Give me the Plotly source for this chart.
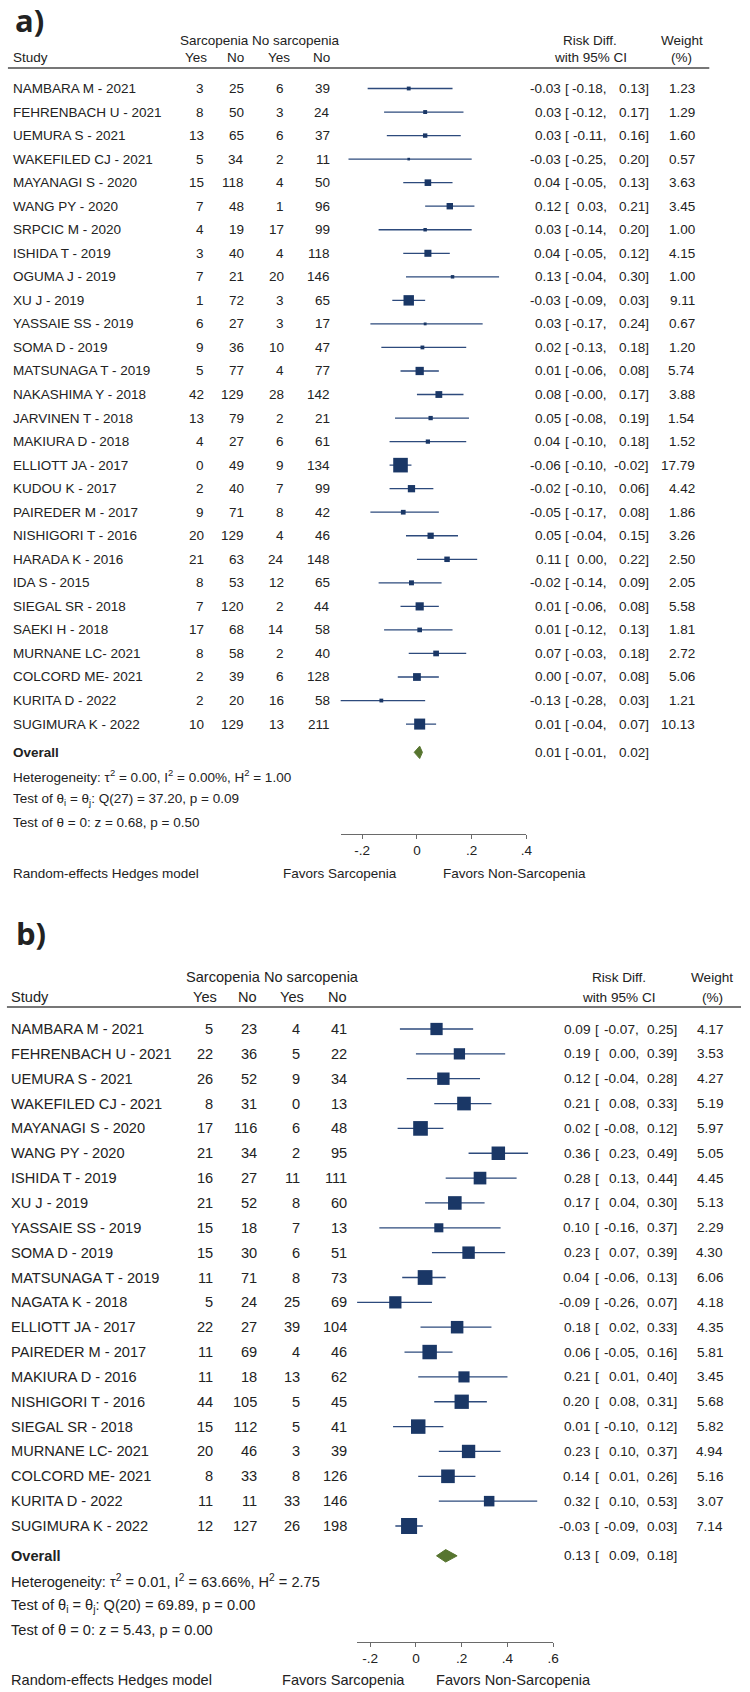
import plotly.graph_objects as go

W, H = 750, 1692
FONT = "Liberation Sans, Arial, Helvetica, sans-serif"
TEXT = "#222222"
NAVY = "#1a3766"
CI_COLOR = "#2d4a7c"
GREEN = "#57752f"
AXIS_COLOR = "#6a6a6a"

# ---------------- panel a data ----------------
studies_a = [
    "NAMBARA M - 2021", "FEHRENBACH U - 2021", "UEMURA S - 2021", "WAKEFILED CJ - 2021",
    "MAYANAGI S - 2020", "WANG PY - 2020", "SRPCIC M - 2020", "ISHIDA T - 2019",
    "OGUMA J - 2019", "XU J - 2019", "YASSAIE SS - 2019", "SOMA D - 2019",
    "MATSUNAGA T - 2019", "NAKASHIMA Y - 2018", "JARVINEN T - 2018", "MAKIURA D - 2018",
    "ELLIOTT JA - 2017", "KUDOU K - 2017", "PAIREDER M - 2017", "NISHIGORI T - 2016",
    "HARADA K - 2016", "IDA S - 2015", "SIEGAL SR - 2018", "SAEKI H - 2018",
    "MURNANE LC- 2021", "COLCORD ME- 2021", "KURITA D - 2022", "SUGIMURA K - 2022",
]
sarc_yes_a = [3, 8, 13, 5, 15, 7, 4, 3, 7, 1, 6, 9, 5, 42, 13, 4, 0, 2, 9, 20, 21, 8, 7, 17, 8, 2, 2, 10]
sarc_no_a = [25, 50, 65, 34, 118, 48, 19, 40, 21, 72, 27, 36, 77, 129, 79, 27, 49, 40, 71, 129, 63, 53, 120, 68, 58, 39, 20, 129]
nosarc_yes_a = [6, 3, 6, 2, 4, 1, 17, 4, 20, 3, 3, 10, 4, 28, 2, 6, 9, 7, 8, 4, 24, 12, 2, 14, 2, 6, 16, 13]
nosarc_no_a = [39, 24, 37, 11, 50, 96, 99, 118, 146, 65, 17, 47, 77, 142, 21, 61, 134, 99, 42, 46, 148, 65, 44, 58, 40, 128, 58, 211]
rd_a = [-0.03, 0.03, 0.03, -0.03, 0.04, 0.12, 0.03, 0.04, 0.13, -0.03, 0.03, 0.02, 0.01, 0.08,
        0.05, 0.04, -0.06, -0.02, -0.05, 0.05, 0.11, -0.02, 0.01, 0.01, 0.07, 0.00, -0.13, 0.01]
lo_a = [-0.18, -0.12, -0.11, -0.25, -0.05, 0.03, -0.14, -0.05, -0.04, -0.09, -0.17, -0.13, -0.06, -0.0,
        -0.08, -0.10, -0.10, -0.10, -0.17, -0.04, 0.00, -0.14, -0.06, -0.12, -0.03, -0.07, -0.28, -0.04]
hi_a = [0.13, 0.17, 0.16, 0.20, 0.13, 0.21, 0.20, 0.12, 0.30, 0.03, 0.24, 0.18, 0.08, 0.17,
        0.19, 0.18, -0.02, 0.06, 0.08, 0.15, 0.22, 0.09, 0.08, 0.13, 0.18, 0.08, 0.03, 0.07]
weight_a = [1.23, 1.29, 1.60, 0.57, 3.63, 3.45, 1.00, 4.15, 1.00, 9.11, 0.67, 1.20, 5.74, 3.88,
            1.54, 1.52, 17.79, 4.42, 1.86, 3.26, 2.50, 2.05, 5.58, 1.81, 2.72, 5.06, 1.21, 10.13]
overall_a = [0.01, -0.01, 0.02]
stats_a = ["τ<sup>2</sup> = 0.00, I<sup>2</sup> = 0.00%, H<sup>2</sup> = 1.00",
           "Q(27) = 37.20, p = 0.09",
           "z = 0.68, p = 0.50"]
ticks_a = [-0.2, 0, 0.2, 0.4]
ticklabels_a = ["-.2", "0", ".2", ".4"]

# ---------------- panel b data ----------------
studies_b = [
    "NAMBARA M - 2021", "FEHRENBACH U - 2021", "UEMURA S - 2021", "WAKEFILED CJ - 2021",
    "MAYANAGI S - 2020", "WANG PY - 2020", "ISHIDA T - 2019", "XU J - 2019",
    "YASSAIE SS - 2019", "SOMA D - 2019", "MATSUNAGA T - 2019", "NAGATA K - 2018",
    "ELLIOTT JA - 2017", "PAIREDER M - 2017", "MAKIURA D - 2016", "NISHIGORI T - 2016",
    "SIEGAL SR - 2018", "MURNANE LC- 2021", "COLCORD ME- 2021", "KURITA D - 2022",
    "SUGIMURA K - 2022",
]
sarc_yes_b = [5, 22, 26, 8, 17, 21, 16, 21, 15, 15, 11, 5, 22, 11, 11, 44, 15, 20, 8, 11, 12]
sarc_no_b = [23, 36, 52, 31, 116, 34, 27, 52, 18, 30, 71, 24, 27, 69, 18, 105, 112, 46, 33, 11, 127]
nosarc_yes_b = [4, 5, 9, 0, 6, 2, 11, 8, 7, 6, 8, 25, 39, 4, 13, 5, 5, 3, 8, 33, 26]
nosarc_no_b = [41, 22, 34, 13, 48, 95, 111, 60, 13, 51, 73, 69, 104, 46, 62, 45, 41, 39, 126, 146, 198]
rd_b = [0.09, 0.19, 0.12, 0.21, 0.02, 0.36, 0.28, 0.17, 0.10, 0.23, 0.04, -0.09, 0.18, 0.06,
        0.21, 0.20, 0.01, 0.23, 0.14, 0.32, -0.03]
lo_b = [-0.07, 0.00, -0.04, 0.08, -0.08, 0.23, 0.13, 0.04, -0.16, 0.07, -0.06, -0.26, 0.02, -0.05,
        0.01, 0.08, -0.10, 0.10, 0.01, 0.10, -0.09]
hi_b = [0.25, 0.39, 0.28, 0.33, 0.12, 0.49, 0.44, 0.30, 0.37, 0.39, 0.13, 0.07, 0.33, 0.16,
        0.40, 0.31, 0.12, 0.37, 0.26, 0.53, 0.03]
weight_b = [4.17, 3.53, 4.27, 5.19, 5.97, 5.05, 4.45, 5.13, 2.29, 4.30, 6.06, 4.18, 4.35, 5.81,
            3.45, 5.68, 5.82, 4.94, 5.16, 3.07, 7.14]
overall_b = [0.13, 0.09, 0.18]
stats_b = ["τ<sup>2</sup> = 0.01, I<sup>2</sup> = 63.66%, H<sup>2</sup> = 2.75",
           "Q(20) = 69.89, p = 0.00",
           "z = 5.43, p = 0.00"]
ticks_b = [-0.2, 0, 0.2, 0.4, 0.6]
ticklabels_b = ["-.2", "0", ".2", ".4", ".6"]


def fmt(v):
    return f"{v:.2f}"


def py(ypx):
    return 1 - ypx / H


def add_panel(fig, ax, label, data, g):
    studies, c1, c2, c3, c4, rd, lo, hi, wt, overall, stats, tv, tt = data
    xname, yname = "x" + ax, "y" + ax
    n = len(studies)
    fs = g["fs"]
    nfs = g["nfs"]
    ann = []

    def t(text, xpx, y, anchor="left", yref=yname, size=fs, bold=False, fam=FONT):
        if yref == "paper":
            y = py(y)
        if bold:
            text = f"<b>{text}</b>"
        ann.append(dict(text=text, x=xpx / W, xref="paper", y=y, yref=yref,
                        xanchor=anchor, yanchor="middle", showarrow=False, borderpad=0,
                        font=dict(size=size, family=fam, color=TEXT)))

    rows = list(range(n))

    # CI lines
    xs, ys = [], []
    for i in rows:
        xs += [lo[i], hi[i], None]
        ys += [i, i, None]
    fig.add_trace(go.Scatter(x=xs, y=ys, mode="lines", xaxis=xname, yaxis=yname,
                             line=dict(color=CI_COLOR, width=1.3), hoverinfo="skip", cliponaxis=False))
    # weighted squares
    fig.add_trace(go.Scatter(x=rd, y=rows, mode="markers", xaxis=xname, yaxis=yname,
                             marker=dict(symbol="square", color=NAVY, opacity=1,
                                         size=[g["k"] * w ** 0.5 for w in wt], line=dict(width=0)),
                             cliponaxis=False))
    # overall diamond
    r0 = n + 0.2
    h = 6.2 / g["step"]
    est, olo, ohi = overall
    fig.add_trace(go.Scatter(x=[olo, est, ohi, est, olo], y=[r0, r0 - h, r0, r0 + h, r0],
                             mode="lines", fill="toself", fillcolor=GREEN, xaxis=xname, yaxis=yname,
                             line=dict(color=GREEN, width=1), cliponaxis=False))

    # header
    t("Sarcopenia No sarcopenia", g["grp"], g["hy1"], "center", "paper")
    t("Study", g["study_x"], g["hy2"], "left", "paper")
    for hx, ht in zip(g["hcols"], ["Yes", "No", "Yes", "No"]):
        t(ht, hx, g["hy2"], "right", "paper")
    t("Risk Diff.", g["rdc"], g["hy1"], "center", "paper", size=nfs)
    t("with 95% CI", g["rdc"], g["hy2"], "center", "paper", size=nfs)
    t("Weight", g["wc"], g["hy1"], "center", "paper", size=nfs)
    t("(%)", g["wc"], g["hy2"], "center", "paper", size=nfs)

    # rows
    for i in rows:
        t(studies[i], g["study_x"], i)
        for cx, col in zip(g["cols"], [c1, c2, c3, c4]):
            t(str(col[i]), cx, i, "right")
        t(fmt(rd[i]), g["est_r"], i, "right", size=nfs)
        t("[", g["br_l"], i, "left", size=nfs)
        t(fmt(lo[i]) + ",", g["lo_r"], i, "right", size=nfs)
        t(fmt(hi[i]) + "]", g["hi_r"], i, "right", size=nfs)
        t(fmt(wt[i]), g["w_r"], i, "right", size=nfs)

    t("Overall", g["study_x"], r0, bold=True)
    t(fmt(est), g["est_r"], r0, "right", size=nfs)
    t("[", g["br_l"], r0, "left", size=nfs)
    t(fmt(olo) + ",", g["lo_r"], r0, "right", size=nfs)
    t(fmt(ohi) + "]", g["hi_r"], r0, "right", size=nfs)
    t("Heterogeneity: " + stats[0], g["study_x"], n + 1.2)
    t("Test of θ<sub>i</sub> = θ<sub>j</sub>: " + stats[1], g["study_x"], n + 2.2)
    t("Test of θ = 0: " + stats[2], g["study_x"], n + 3.2)

    # footer
    t("Random-effects Hedges model", g["study_x"], g["fy"], "left", "paper")
    t("Favors Sarcopenia", g["fav1"], g["fy"], "center", "paper")
    t("Favors Non-Sarcopenia", g["fav2"], g["fy"], "center", "paper")

    # panel label
    t(label, g["lab_x"], g["lab_y"], "left", "paper", size=31, bold=True,
      fam="Open Sans, Lato, sans-serif")

    # header rule
    fig.add_shape(type="line", xref="paper", yref="paper", x0=g["rule"][0] / W, x1=g["rule"][1] / W,
                  y0=py(g["rule_y"]), y1=py(g["rule_y"]), line=dict(color="#4a4a4a", width=1.6))

    lay = {}
    lay["xaxis" + ax] = dict(domain=[g["ax_px"][0] / W, g["ax_px"][1] / W], range=g["xr"],
                             anchor=yname, showline=True, linecolor=AXIS_COLOR, linewidth=1.2,
                             ticks="outside", ticklen=4, tickcolor=AXIS_COLOR, tickwidth=1,
                             tickvals=tv, ticktext=tt, showgrid=False, zeroline=False,
                             tickfont=dict(size=nfs, family=FONT, color=TEXT), fixedrange=True)
    top_row = (g["top"] - g["row0"]) / g["step"]
    bot_row = (g["axis_y"] - g["row0"]) / g["step"]
    lay["yaxis" + ax] = dict(domain=[py(g["axis_y"]), py(g["top"])], range=[bot_row, top_row],
                             anchor=xname, visible=False, showgrid=False, zeroline=False)
    fig.update_layout(**lay)
    return ann


geom_a = dict(fs=13.5, nfs=13.5, row0=88.5, step=23.54, k=3.46, study_x=12,
              cols=[207, 247, 287, 334], hcols=[210, 247, 293, 334],
              grp=262, hy1=40, hy2=58, rdc=595, wc=687, rule=(8, 715), rule_y=68,
              est_r=567, br_l=569, lo_r=613, hi_r=655, w_r=702,
              ax_px=(343.3, 530.7), xr=[-0.279, 0.4], axis_y=834, top=72,
              fy=873, fav1=343, fav2=519, lab_x=14, lab_y=20)
geom_b = dict(fs=14.6, nfs=13.6, row0=1029, step=24.85, k=6.0, study_x=10,
              cols=[216, 260, 303, 351], hcols=[220, 260, 307, 351],
              grp=275, hy1=977, hy2=997, rdc=624, wc=718, rule=(7, 747), rule_y=1007,
              est_r=596, br_l=599, lo_r=645, hi_r=683, w_r=730,
              ax_px=(360, 557.7), xr=[-0.257, 0.6], axis_y=1642, top=1012,
              fy=1680, fav1=346, fav2=518, lab_x=15, lab_y=933)

fig = go.Figure()
annotations = []
annotations += add_panel(fig, "", "a)",
                         (studies_a, sarc_yes_a, sarc_no_a, nosarc_yes_a, nosarc_no_a,
                          rd_a, lo_a, hi_a, weight_a, overall_a, stats_a, ticks_a, ticklabels_a), geom_a)
annotations += add_panel(fig, "2", "b)",
                         (studies_b, sarc_yes_b, sarc_no_b, nosarc_yes_b, nosarc_no_b,
                          rd_b, lo_b, hi_b, weight_b, overall_b, stats_b, ticks_b, ticklabels_b), geom_b)

fig.update_layout(
    width=W, height=H,
    margin=dict(l=0, r=0, t=0, b=0),
    paper_bgcolor="white", plot_bgcolor="white",
    showlegend=False,
    annotations=annotations,
    font=dict(family=FONT, color=TEXT),
)

# drop the default body margin so the figure sits at the window's corner
fig.write_html("out.html", config={"displayModeBar": False},
               post_script="document.body.style.margin = '0px';")
